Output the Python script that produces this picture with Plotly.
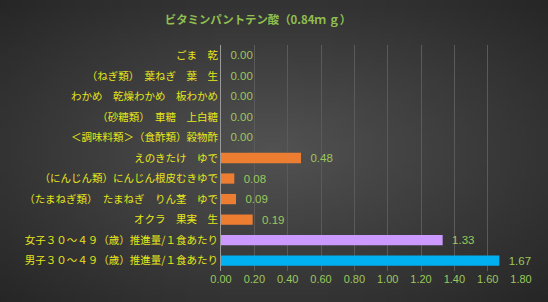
import base64
import struct
import zlib

import plotly.graph_objects as go

categories = [
    "ごま　乾",
    "（ねぎ類）　葉ねぎ　葉　生",
    "わかめ　乾燥わかめ　板わかめ",
    "（砂糖類）　車糖　上白糖",
    "＜調味料類＞（食酢類）穀物酢",
    "えのきたけ　ゆで",
    "（にんじん類）にんじん根皮むきゆで",
    "（たまねぎ類）　たまねぎ　りん茎　ゆで",
    "オクラ　果実　生",
    "女子３０～４９（歳）推進量/１食あたり",
    "男子３０～４９（歳）推進量/１食あたり",
]
values = [0.00, 0.00, 0.00, 0.00, 0.00, 0.48, 0.08, 0.09, 0.19, 1.33, 1.67]
bar_colors = ["#ed7d31"] * 9 + ["#cc99ff", "#00b0f0"]
tick_vals = [0, 0.2, 0.4, 0.6, 0.8, 1.0, 1.2, 1.4, 1.6, 1.8]
title = "ビタミンパントテン酸（0.84ｍ ｇ）"


def radial_png(w, h, inner, outer):
    rows = b""
    for j in range(h):
        row = b"\x00"
        for i in range(w):
            dx = (i + 0.5) / w - 0.5
            dy = (j + 0.5) / h - 0.5
            d = min(1.0, ((dx * dx + dy * dy) ** 0.5) / 0.70)
            c = int(round(inner + (outer - inner) * d))
            row += bytes([c, c, c])
        rows += row

    def chunk(t, data):
        return struct.pack(">I", len(data)) + t + data + struct.pack(">I", zlib.crc32(t + data) & 0xFFFFFFFF)

    png = b"\x89PNG\r\n\x1a\n"
    png += chunk(b"IHDR", struct.pack(">IIBBBBB", w, h, 8, 2, 0, 0, 0))
    png += chunk(b"IDAT", zlib.compress(rows, 9))
    png += chunk(b"IEND", b"")
    return "data:image/png;base64," + base64.b64encode(png).decode()


bg = radial_png(110, 60, 0x52, 0x26)

fig = go.Figure()
fig.add_trace(go.Bar(
    y=categories, x=values, orientation="h",
    marker=dict(color=bar_colors, line=dict(width=0)),
    text=[f"  {v:.2f}" for v in values], textposition="outside",
    textfont=dict(color="#9bc85c", size=11.5, family="Liberation Sans"),
    constraintext="none",
    cliponaxis=False, hoverinfo="skip", width=0.5,
))
fig.update_layout(
    width=548, height=302,
    margin=dict(l=221, r=27, t=45, b=31),
    paper_bgcolor="#383838", plot_bgcolor="rgba(0,0,0,0)",
    showlegend=False,
    images=[dict(source=bg, xref="paper", yref="paper", x=-221 / 300, y=1 + 45 / 226,
                 sizex=548 / 300, sizey=302 / 226, sizing="stretch", layer="below",
                 xanchor="left", yanchor="top")],
    title=dict(text="<b>" + title + "</b>", x=258 / 548, xanchor="center", y=1 - 20 / 302, yanchor="middle",
               font=dict(color="#8fbf4f", size=11.4, family="Noto Sans CJK JP")),
    xaxis=dict(range=[0, 1.8], tickvals=tick_vals, tickformat=".2f",
               showgrid=True, gridcolor="#5a5a5a", gridwidth=1, zeroline=False,
               tickfont=dict(color="#9bc85c", size=11, family="Liberation Sans"),
               showline=False, fixedrange=True),
    yaxis=dict(autorange="reversed", tickfont=dict(color="#e6e619", size=10.5, family="Noto Sans CJK JP"),
               showline=True, linecolor="#9a9a9a", linewidth=1, ticks="", ticklen=0,
               showgrid=False, fixedrange=True),
    bargap=0.5,
)
fig.write_html("out.html")
